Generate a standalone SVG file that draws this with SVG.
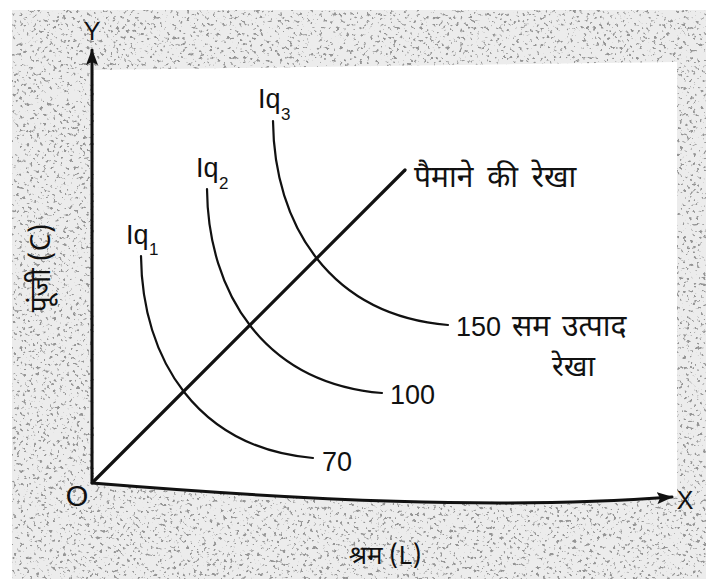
<svg xmlns="http://www.w3.org/2000/svg" width="714" height="579" viewBox="0 0 714 579">
  <defs>
    <filter id="speck" x="0" y="0" width="100%" height="100%" filterUnits="objectBoundingBox">
      <feTurbulence type="fractalNoise" baseFrequency="0.3" numOctaves="2" seed="7" result="n"/>
      <feColorMatrix in="n" type="matrix" values="0 0 0 0 0.3  0 0 0 0 0.3  0 0 0 0 0.3  -9 0 0 0 3.55"/>
    </filter>
    <marker id="arrow" viewBox="0 0 16 12" refX="15" refY="6" markerWidth="16" markerHeight="12" markerUnits="userSpaceOnUse" orient="auto">
      <path d="M0,0 L16,6 L0,12 L3,6 Z" fill="#111"/>
    </marker>
    <style>
      .axis { fill: none; stroke: #111; stroke-width: 3; stroke-linecap: round; }
      .curve { fill: none; stroke: #111; stroke-width: 2.2; stroke-linecap: round; }
      .scale { fill: none; stroke: #111; stroke-width: 3.2; stroke-linecap: round; }
      .lbl { font-family: "Liberation Sans", Arial, sans-serif; fill: #111; }
      .hi { font-family: "Noto Sans Devanagari", "Noto Sans", "Liberation Sans", sans-serif; fill: #111; }
    </style>
  </defs>

  <rect width="714" height="579" fill="#ffffff"/>
  <g id="background">
    <rect x="12" y="10" width="694" height="569" fill="#ececec"/>
    <rect x="12" y="10" width="694" height="569" filter="url(#speck)"/>
    <path d="M94,70 L677,62 L677,496 C500,508 300,500 94,484 Z" fill="#ffffff"/>
  </g>

  <g id="connectors">
    <path id="y-axis" class="axis" d="M92,483 L92,50" marker-end="url(#arrow)"/>
    <path id="x-axis" class="axis" d="M92,483 C300,500 500,510 672,497" marker-end="url(#arrow)"/>
    <path id="scale-line" class="scale" d="M93,482 L405,170"/>
  </g>

  <g id="iq1">
    <path class="curve" d="M141,256 C142,360 198,448 313,458"/>
    <text class="lbl" x="126" y="244" font-size="27">Iq</text>
    <text class="lbl" x="149" y="255" font-size="17">1</text>
    <text class="lbl" x="322" y="471" font-size="27">70</text>
  </g>

  <g id="iq2">
    <path class="curve" d="M207,189 C208,293 264,383 382,393"/>
    <text class="lbl" x="196" y="177" font-size="27">Iq</text>
    <text class="lbl" x="219" y="189" font-size="17">2</text>
    <text class="lbl" x="390" y="404" font-size="27">100</text>
  </g>

  <g id="iq3">
    <path class="curve" d="M273,121 C274,225 330,315 448,325"/>
    <text class="lbl" x="258" y="108" font-size="27">Iq</text>
    <text class="lbl" x="281" y="120" font-size="17">3</text>
    <text class="lbl" x="456" y="336" font-size="27">150</text>
    <text class="hi" x="512" y="336" font-size="30" word-spacing="4">सम उत्पाद</text>
    <text class="hi" x="552" y="376" font-size="29">रेखा</text>
  </g>

  <g id="scale-label">
    <text class="hi" x="414" y="187" font-size="30" word-spacing="6">पैमाने की रेखा</text>
  </g>

  <g id="axis-labels">
    <text class="lbl" x="92" y="40" font-size="25" text-anchor="middle">Y</text>
    <text class="lbl" x="685" y="509" font-size="25" text-anchor="middle">X</text>
    <text class="lbl" x="77" y="506" font-size="29" text-anchor="middle">O</text>
    <text class="hi" x="0" y="0" font-size="28" text-anchor="middle" transform="translate(50,268) rotate(-90)">पूंजी (C)</text>
    <text class="hi" x="385" y="564" font-size="26" text-anchor="middle">श्रम (L)</text>
  </g>
</svg>
